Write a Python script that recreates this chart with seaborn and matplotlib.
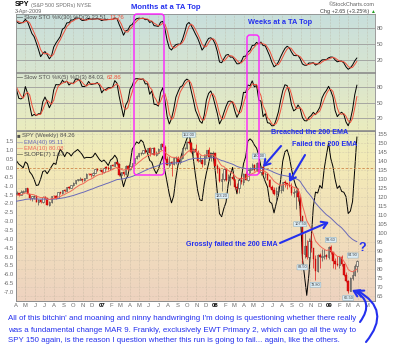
import matplotlib
matplotlib.use("Agg")
import matplotlib.pyplot as plt
import matplotlib.dates as mdates
import matplotlib.transforms as mtransforms
from matplotlib.patches import FancyBboxPatch, FancyArrowPatch
from matplotlib.colors import LinearSegmentedColormap
import seaborn as sns
import pandas as pd
import numpy as np

sns.set_style("white")
plt.rcParams["font.family"] = ["Liberation Sans", "DejaVu Sans"]

#################################################
# weekly SPY bars (dividend adjusted), first week ends 2005-07-29
# 2005 part is only there to warm up the indicators
#################################################
close_2005 = [114.3, 113.6, 114.6, 112.9, 111.6, 112.8, 115.0, 115.1, 113.1, 114.3, 111.2, 110.4,
              109.7, 111.5, 113.5, 114.8, 116.1, 118.0, 117.7, 117.2, 118.5, 118.6, 116.7]
high_2005 = [115.0, 115.1, 115.0, 115.0, 113.2, 113.3, 115.2, 115.6, 115.3, 114.6, 114.6, 111.8,
             111.6, 111.7, 113.8, 115.0, 116.3, 118.1, 118.6, 118.4, 118.9, 119.0, 118.8]
low_2005 = [113.5, 113.3, 113.0, 112.6, 111.3, 110.8, 112.6, 114.3, 112.6, 112.8, 110.7, 109.2,
            109.2, 108.6, 111.2, 113.0, 114.2, 115.9, 116.8, 116.6, 117.0, 118.0, 116.5]

close_2006 = [120.1, 120.3, 117.9, 120.0, 118.0, 118.3, 120.4, 120.6, 120.2, 120.1, 123.0, 122.5, 121.9,
              122.4, 121.1, 122.6, 123.3, 124.8, 121.7, 119.2, 120.4, 120.5, 117.4, 118.3, 117.5, 120.0,
              119.4, 115.6, 117.3, 120.7, 120.3, 119.6, 122.6, 122.2, 123.9, 123.4, 125.6, 125.0, 126.5,
              127.9, 129.5, 129.6, 130.1, 129.2, 130.6, 132.9, 132.7, 132.1, 133.5, 135.4, 134.8, 134.8]
high_2006 = [120.3, 120.9, 120.6, 120.4, 120.2, 118.9, 120.6, 121.0, 121.4, 120.6, 123.2, 123.4, 122.9,
             123.6, 122.5, 123.8, 123.8, 125.0, 125.2, 121.8, 120.6, 121.4, 120.9, 118.8, 118.9, 120.4,
             120.7, 119.6, 117.6, 120.8, 121.3, 120.9, 122.9, 122.9, 124.1, 124.3, 125.8, 126.3, 126.8,
             128.1, 129.6, 130.0, 130.9, 130.2, 130.8, 133.2, 133.2, 133.4, 133.7, 135.8, 135.6, 135.3]
low_2006 = [116.6, 119.3, 117.6, 117.8, 117.6, 116.9, 117.9, 119.8, 119.6, 118.8, 119.9, 122.0, 121.5,
            121.7, 120.5, 120.9, 122.0, 122.8, 121.5, 118.4, 118.0, 118.9, 117.0, 115.5, 116.8, 116.9,
            118.9, 115.3, 114.9, 116.9, 119.2, 118.9, 119.4, 121.5, 121.9, 122.6, 123.2, 124.7, 124.9,
            125.9, 127.5, 128.8, 129.3, 128.5, 128.9, 130.5, 132.3, 131.0, 131.9, 133.4, 134.3, 134.4]

close_2007 = [133.8, 136.3, 136.2, 135.3, 137.8, 137.5, 139.2, 138.6, 132.2, 133.9, 132.7, 137.5, 135.7,
              137.2, 138.9, 141.7, 142.6, 144.3, 144.5, 146.2, 145.1, 147.3, 144.4, 147.0, 143.6, 144.4,
              146.8, 149.6, 147.9, 140.9, 138.0, 139.3, 138.6, 141.7, 141.7, 139.3, 141.5, 147.0, 147.3,
              150.7, 150.3, 144.8, 146.9, 145.2, 140.2, 140.5, 138.2, 143.5, 146.2, 142.4, 144.2, 144.2]
high_2007 = [135.4, 136.4, 137.0, 137.2, 138.0, 138.2, 139.3, 139.5, 139.0, 134.0, 134.3, 137.8, 137.6,
             137.4, 139.0, 141.9, 143.1, 144.5, 145.0, 146.4, 146.9, 147.5, 147.6, 147.3, 147.9, 145.6,
             147.0, 149.8, 151.1, 148.7, 143.0, 143.0, 140.0, 142.0, 142.8, 143.0, 141.8, 147.4, 147.9,
             150.9, 152.0, 150.6, 147.4, 149.6, 146.1, 143.5, 141.0, 144.0, 146.4, 147.8, 144.4, 145.8]
low_2007 = [132.6, 133.5, 135.8, 134.8, 135.2, 137.2, 137.0, 138.4, 131.5, 130.8, 131.5, 132.5, 134.6,
            135.0, 136.6, 138.7, 141.3, 142.3, 143.2, 144.1, 144.3, 144.9, 142.7, 143.9, 143.3, 142.9,
            144.0, 145.9, 147.3, 140.5, 137.6, 136.9, 131.9, 138.0, 138.4, 139.0, 138.5, 141.0, 146.1,
            146.9, 149.5, 144.6, 142.9, 143.4, 139.6, 139.4, 136.5, 137.6, 141.6, 142.0, 140.2, 142.9]

close_2008 = [137.4, 135.8, 128.8, 129.8, 135.4, 129.5, 130.9, 131.0, 129.8, 125.4, 124.9, 129.2, 128.2,
              133.0, 129.6, 135.2, 135.8, 137.7, 135.1, 139.0, 133.9, 136.7, 132.8, 132.8, 129.6, 125.4,
              123.8, 121.5, 123.6, 123.8, 124.1, 128.1, 127.8, 126.9, 126.2, 122.3, 122.7, 123.5, 119.8,
              109.2, 88.6, 92.7, 86.5, 95.3, 91.6, 85.8, 78.8, 87.8, 86.6, 87.2, 87.6, 86.8]
high_2008 = [144.4, 138.6, 136.5, 133.5, 136.2, 135.6, 132.6, 131.8, 133.5, 130.0, 128.0, 130.0, 131.6,
             133.6, 134.3, 135.5, 136.9, 138.8, 138.3, 139.3, 140.0, 137.2, 138.2, 134.0, 133.6, 130.2,
             126.9, 125.4, 125.6, 126.1, 126.8, 128.4, 129.5, 128.0, 128.8, 127.7, 125.1, 124.5, 125.1,
             120.4, 109.4, 99.8, 96.1, 97.2, 99.8, 91.9, 87.5, 88.6, 88.8, 90.9, 91.0, 88.1]
low_2008 = [137.0, 133.3, 128.3, 123.2, 128.9, 128.7, 129.0, 126.5, 129.2, 124.6, 122.6, 122.2, 127.5,
            126.8, 129.4, 128.9, 133.6, 134.8, 134.7, 134.7, 133.6, 132.4, 132.4, 130.7, 129.3, 125.0,
            122.8, 120.9, 117.2, 121.8, 122.1, 123.2, 125.8, 124.3, 125.8, 121.0, 119.8, 113.6, 117.9,
            107.5, 83.5, 86.3, 85.4, 82.9, 89.3, 80.8, 73.8, 78.3, 80.6, 84.2, 85.6, 85.5]

close_2009 = [92.3, 89.2, 84.5, 82.5, 82.2, 86.4, 82.6, 76.4, 73.3, 67.8, 75.0, 76.7, 81.6, 84.3]
high_2009 = [92.5, 93.6, 89.4, 86.0, 87.1, 87.0, 88.0, 82.7, 78.5, 73.8, 75.5, 79.3, 82.7, 84.9]
low_2009 = [85.5, 88.3, 80.4, 79.9, 81.6, 80.3, 81.8, 76.0, 72.8, 66.5, 67.6, 74.0, 76.0, 78.2]

close = close_2005 + close_2006 + close_2007 + close_2008 + close_2009
high = high_2005 + high_2006 + high_2007 + high_2008 + high_2009
low = low_2005 + low_2006 + low_2007 + low_2008 + low_2009

month_letters = ["J", "F", "M", "A", "M", "J", "J", "A", "S", "O", "N", "D"]

# weeks that carry a small value box (week-ending Friday, above high / below low)
label_weeks = ["2007-10-12", "2008-05-23", "2008-01-25", "2008-10-03", "2009-01-09",
               "2008-10-10", "2008-11-21", "2009-04-03", "2009-03-06"]
label_sides = ["hi", "hi", "lo", "lo", "hi", "lo", "lo", "hi", "lo"]

bottom_lines = [
    "All of this bitchin' and moaning and ninny handwringing I'm doing is questioning whether there really",
    "was a fundamental change MAR 9. Frankly, exclusively EWT Primary 2, which can go all the way to",
    "SPY 150 again, is the reason I question whether this run is going to fail... again, like the others.",
]

#################################################
# indicators
#################################################
n = min(len(close), len(high), len(low))
df = pd.DataFrame({"close": close[:n], "high": high[:n], "low": low[:n]})
df["date"] = pd.date_range("2005-07-29", periods=n, freq="W-FRI") - pd.Timedelta(days=4)
df["open"] = df["close"].shift(1).fillna(df["close"])
df["ema40"] = df["close"].ewm(span=40, adjust=False).mean()
df["ema10"] = df["close"].ewm(span=10, adjust=False).mean()
xs = np.arange(7)
df["slope7"] = df["close"].rolling(7).apply(lambda v: np.polyfit(xs, v, 1)[0], raw=True)


def slow_sto(period):
    ll = df["low"].rolling(period).min()
    hh = df["high"].rolling(period).max()
    fast = (df["close"] - ll) / (hh - ll) * 100
    k = fast.rolling(3).mean()
    return k, k.rolling(3).mean()


df["k30"], df["d30"] = slow_sto(30)
df["k5"], df["d5"] = slow_sto(5)

#################################################
# figure layout (all layout numbers are reference pixels)
#################################################
W, H = 400, 352
fig = plt.figure(figsize=(W / 100, H / 100), dpi=100)
px = mtransforms.Affine2D().scale(1 / W, -1 / H).translate(0, 1) + fig.transFigure
L, R = 16, 375
blue = "#2430ee"
tick_col = "#6a6a6a"


def panel(top, bottom):
    return fig.add_axes([L / W, 1 - bottom / H, (R - L) / W, (bottom - top) / H])


bg = panel(14, 301)
cmap = LinearSegmentedColormap.from_list(
    "sc", [(0, "#c8dfdc"), (0.2, "#d8e5d0"), (0.4, "#eaecbe"), (0.5, "#f3ebb6"),
           (0.75, "#f1dfbb"), (1, "#eed3c0")])
bg.imshow(np.linspace(0, 1, 256)[:, None], cmap=cmap, aspect="auto")
bg.axis("off")

ax1 = panel(14, 72)
ax2 = panel(73, 130)
ax3 = panel(131, 301)
ax3p = ax3.twinx()

x0, x1 = pd.Timestamp("2006-04-01"), pd.Timestamp("2009-05-27")
months = pd.date_range("2006-04-01", "2009-05-01", freq="MS")

# stochastics
for ax, k, d in [(ax1, "k30", "d30"), (ax2, "k5", "d5")]:
    sns.lineplot(data=df, x="date", y=k, ax=ax, color="black", lw=0.7)
    sns.lineplot(data=df, x="date", y=d, ax=ax, color="#f0503c", lw=0.7)
    for v in (20, 50, 80):
        ax.axhline(v, color="#9c9c9c", lw=0.6, zorder=0.5)
    ax.yaxis.tick_right()
    ax.set_yticks([20, 50, 80])
ax1.set_ylim(-2.5, 106)
ax2.set_ylim(-4, 108)

# slope on the left scale
sns.lineplot(data=df, x="date", y="slope7", ax=ax3, color="black", lw=0.7)
ax3.axhline(0, color="#d0884c", lw=0.6, ls=(0, (3, 2)))
ax3.set_ylim(-7.51, 2.09)
slope_ticks = np.arange(-7, 1.51, 0.5)
ax3.set_yticks(slope_ticks)
ax3.set_yticklabels([f"{v:.1f}".replace("-0.0", "0.0") for v in slope_ticks])

# candles on the right (price) scale
vis = df[df["date"] >= x0 - pd.Timedelta(days=7)]
xd = mdates.date2num(vis["date"])
down = (vis["close"] < vis["open"]).values
wick_cols = np.where(down, "#e01818", "#505050")
ax3p.vlines(xd, vis["low"], vis["high"], colors=wick_cols, lw=0.5, zorder=2)
body_lo = np.minimum(vis["open"], vis["close"]).values
body_h = np.maximum(np.abs(vis["close"] - vis["open"]).values, 0.25)
ax3p.bar(xd[down], body_h[down], bottom=body_lo[down], width=4.5, color="#e01010",
         edgecolor="#c00000", lw=0.3, zorder=3)
ax3p.bar(xd[~down], body_h[~down], bottom=body_lo[~down], width=4.5, color="#f4efe0",
         edgecolor="#3c3c3c", lw=0.4, zorder=3)
sns.lineplot(data=df, x="date", y="ema40", ax=ax3p, color="#6a6ab8", lw=0.7, zorder=4)
sns.lineplot(data=df, x="date", y="ema10", ax=ax3p, color="#f06858", lw=0.7, zorder=4)
ax3p.set_ylim(62.2, 156.7)
ax3p.set_yticks(range(65, 156, 5))
ax3p.yaxis.grid(True, color="#c4b8a4", lw=0.4, ls=":")

# value boxes
for wk, side in zip(label_weeks, label_sides):
    row = df[df["date"] == pd.Timestamp(wk) - pd.Timedelta(days=4)].iloc[0]
    val = row["high"] if side == "hi" else row["low"]
    yv = val + 2.6 if side == "hi" else val - 2.6
    last = row["date"] == df["date"].iloc[-1]
    ax3p.text(mdates.date2num(row["date"]) + (2 if last else 0), yv, f"{val:.2f}",
              fontsize=2.8, color="#404040", ha="right" if last else "center", va="center",
              zorder=6, bbox=dict(boxstyle="round,pad=0.15", fc="#dcecf4", ec="#7aa4bc", lw=0.3))

# shared x styling
for ax in (ax1, ax2, ax3, ax3p):
    ax.set_xlim(x0, x1)
    ax.set_xlabel("")
    ax.set_ylabel("")
    ax.set_facecolor("none")
    ax.tick_params(length=0, pad=1.5, labelsize=4.2, labelcolor=tick_col)
    for sp in ax.spines.values():
        sp.set_color("#8c8c8c")
        sp.set_linewidth(0.6)
for ax in (ax1, ax2, ax3):
    ax.set_xticks(months)
    ax.grid(axis="x", color="#b4ab98", lw=0.4, ls=":")
ax1.tick_params(labelbottom=False)
ax2.tick_params(labelbottom=False)
ax3.set_xticklabels([f"{m.year % 100:02d}" if m.month == 1 else month_letters[m.month - 1]
                     for m in months])
for lab, m in zip(ax3.get_xticklabels(), months):
    if m.month == 1:
        lab.set_fontweight("bold")
        lab.set_color("black")

#################################################
# texts
#################################################
def put(x, y, s, **kw):
    kw.setdefault("va", "center")
    return fig.text(x, y, s, transform=px, **kw)


def seq(x, y, parts, size=4.2):
    # parts: (text, colour, weight[, size]) placed one after another
    renderer = fig.canvas.get_renderer()
    for part in parts:
        s, c, wt = part[:3]
        t = put(x, y, s, fontsize=part[3] if len(part) > 3 else size, color=c, fontweight=wt)
        x += t.get_window_extent(renderer).width + 1.5


seq(15, 5, [("SPY", "black", "bold", 5.2), ("(S&P 500 SPDRs) NYSE", "#707070", "normal", 3.9)])
put(15, 12, "3-Apr-2009", fontsize=3.9, color="#606060")
put(375, 5, "©StockCharts.com", fontsize=4.0, color="#606060", ha="right")
put(369, 11.5, "Chg +2.65 (+3.25%)", fontsize=4.0, color="#404040", ha="right")
put(375, 11.5, "▲", fontsize=3.5, color="#20a020", ha="right")

seq(17, 17.5, [("—", "black", "normal"), ("Slow STO %K(30) %D(3) 23.51,", "#505050", "normal"),
               ("17.76", "#f0503c", "normal")])
seq(17, 77.5, [("—", "black", "normal"), ("Slow STO %K(5) %D(3) 84.03,", "#505050", "normal"),
               ("62.86", "#f0503c", "normal")])
seq(17, 135.5, [("■", "#505050", "normal"), ("SPY (Weekly) 84.26", "#505050", "normal")])
seq(17, 142.5, [("—", "#6a6ab8", "normal"), ("EMA(40) 95.11", "#6a6ab8", "normal")])
seq(17, 148.5, [("—", "#f06858", "normal"), ("EMA(10) 80.08", "#f06858", "normal")])
seq(17, 154.5, [("—", "black", "normal"), ("SLOPE(7) 1.67", "#404040", "normal")])

ann = dict(fontweight="bold", color=blue, ha="center")
put(166, 7.5, "Months at a TA Top", fontsize=5.5, **ann)
put(280.5, 23, "Weeks at a TA Top", fontsize=5.3, **ann)
put(310, 132, "Breached the 200 EMA", fontsize=5.1, **ann)
put(324.5, 145, "Failed the 200 EMA", fontsize=5.1, **ann)
put(232, 244, "Grossly failed the 200 EMA", fontsize=5.1, **ann)
put(362, 248, "?", fontsize=9, **ann)

for i, line in enumerate(bottom_lines):
    put(8, 319 + i * 11, line, fontsize=5.7, color=blue)

# magenta "top" boxes
for x, y, w, h in [(134, 14, 30, 161), (247, 35, 12, 140)]:
    fig.add_artist(FancyBboxPatch((x, y), w, h, boxstyle="round,pad=0,rounding_size=3",
                                  transform=px, fc="none", ec="#ff20ff", lw=1.0, zorder=8))

# arrows
def arrow(a, b, rad=0.0):
    fig.add_artist(FancyArrowPatch(a, b, transform=px, color=blue, lw=1.5,
                                   arrowstyle="->,head_length=4,head_width=2.5",
                                   connectionstyle=f"arc3,rad={rad}", shrinkA=0, shrinkB=0,
                                   zorder=9))


arrow((281, 146), (263, 167))
arrow((305, 155), (289, 182))
arrow((280, 243), (329, 222))
arrow((366, 342), (356, 290), rad=0.6)
arrow((360, 322), (352, 290), rad=0.6)

fig.savefig("out.png", dpi=100)
